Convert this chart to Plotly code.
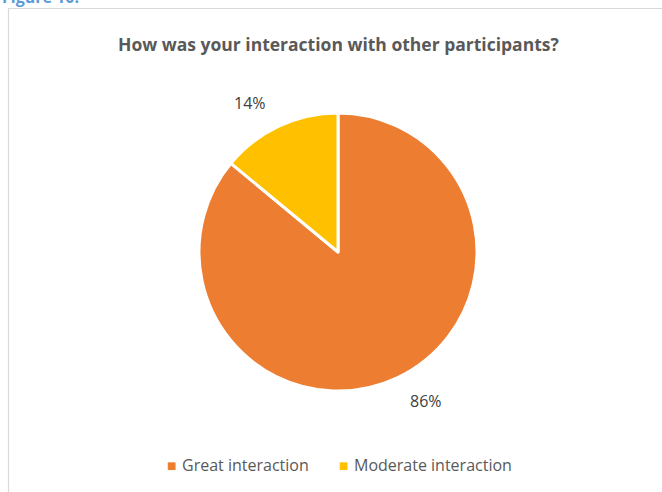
import math
import plotly.graph_objects as go

# Survey responses
categories = ["Great interaction", "Moderate interaction"]
shares = [86, 14]
colors = ["#ED7D31", "#FFC000"]

W, H = 662, 492
cx, cy, r = 338, 252, 139  # pie centre and radius in pixels

fig = go.Figure()
fig.add_trace(go.Pie(
    labels=categories,
    values=shares,
    sort=False,
    direction="clockwise",
    rotation=0,
    marker=dict(colors=colors, line=dict(color="white", width=3)),
    textinfo="none",
    hoverinfo="label+percent",
    domain=dict(x=[(cx - r) / W, (cx + r) / W],
                y=[(H - cy - r) / H, (H - cy + r) / H]),
    showlegend=False,
))

# Percentage labels placed beyond each slice's mid-angle
total = sum(shares)
start = 0.0
annotations = []
for i, v in enumerate(shares):
    frac = v / total
    mid = start + frac / 2
    start += frac
    # clockwise from 12 o'clock, nudged slightly counter-clockwise
    ang = 2 * math.pi * mid - math.radians(5.5)
    dist = r + 34
    px = cx + dist * math.sin(ang)
    py = cy - dist * math.cos(ang)
    annotations.append(dict(
        x=px / W, y=1 - py / H, xref="paper", yref="paper",
        xanchor="center", yanchor="middle",
        text=f"{round(frac * 100)}%", showarrow=False,
        font=dict(family="Open Sans", size=16, color="#404040"),
    ))

# Title
annotations.append(dict(
    x=cx / W, y=1 - 44 / H, xref="paper", yref="paper",
    xanchor="center", yanchor="middle",
    text="<b>How was your interaction with other participants?</b>",
    showarrow=False,
    font=dict(family="Open Sans", size=17.5, color="#595959"),
))

# Figure caption, partially cut at the top edge
annotations.append(dict(
    x=0, y=1 + 3 / H, xref="paper", yref="paper", xanchor="left", yanchor="middle",
    text="<b>Figure 10:</b>", showarrow=False,
    font=dict(family="Open Sans", size=16, color="#5B9BD5"),
))

# Legend: small colour squares followed by category names
legend_x = [171, 343]
for name, col, lx in zip(categories, colors, legend_x):
    annotations.append(dict(
        x=lx / W, y=1 - 465 / H, xref="paper", yref="paper",
        xanchor="center", yanchor="middle",
        text="■", showarrow=False,
        font=dict(family="DejaVu Sans", size=10, color=col),
    ))
    annotations.append(dict(
        x=(lx + 9) / W, y=1 - 465 / H, xref="paper", yref="paper",
        xanchor="left", yanchor="middle",
        text=name, showarrow=False,
        font=dict(family="Open Sans", size=16, color="#595959"),
    ))

fig.update_layout(
    width=W, height=H,
    margin=dict(l=0, r=0, t=0, b=0),
    paper_bgcolor="white",
    plot_bgcolor="white",
    annotations=annotations,
    shapes=[dict(
        type="rect", xref="paper", yref="paper",
        x0=8.5 / W, x1=1.02, y0=-0.02, y1=1 - 8.5 / H,
        line=dict(color="#D9D9D9", width=1.2),
    )],
)

fig.write_html("out.html")
